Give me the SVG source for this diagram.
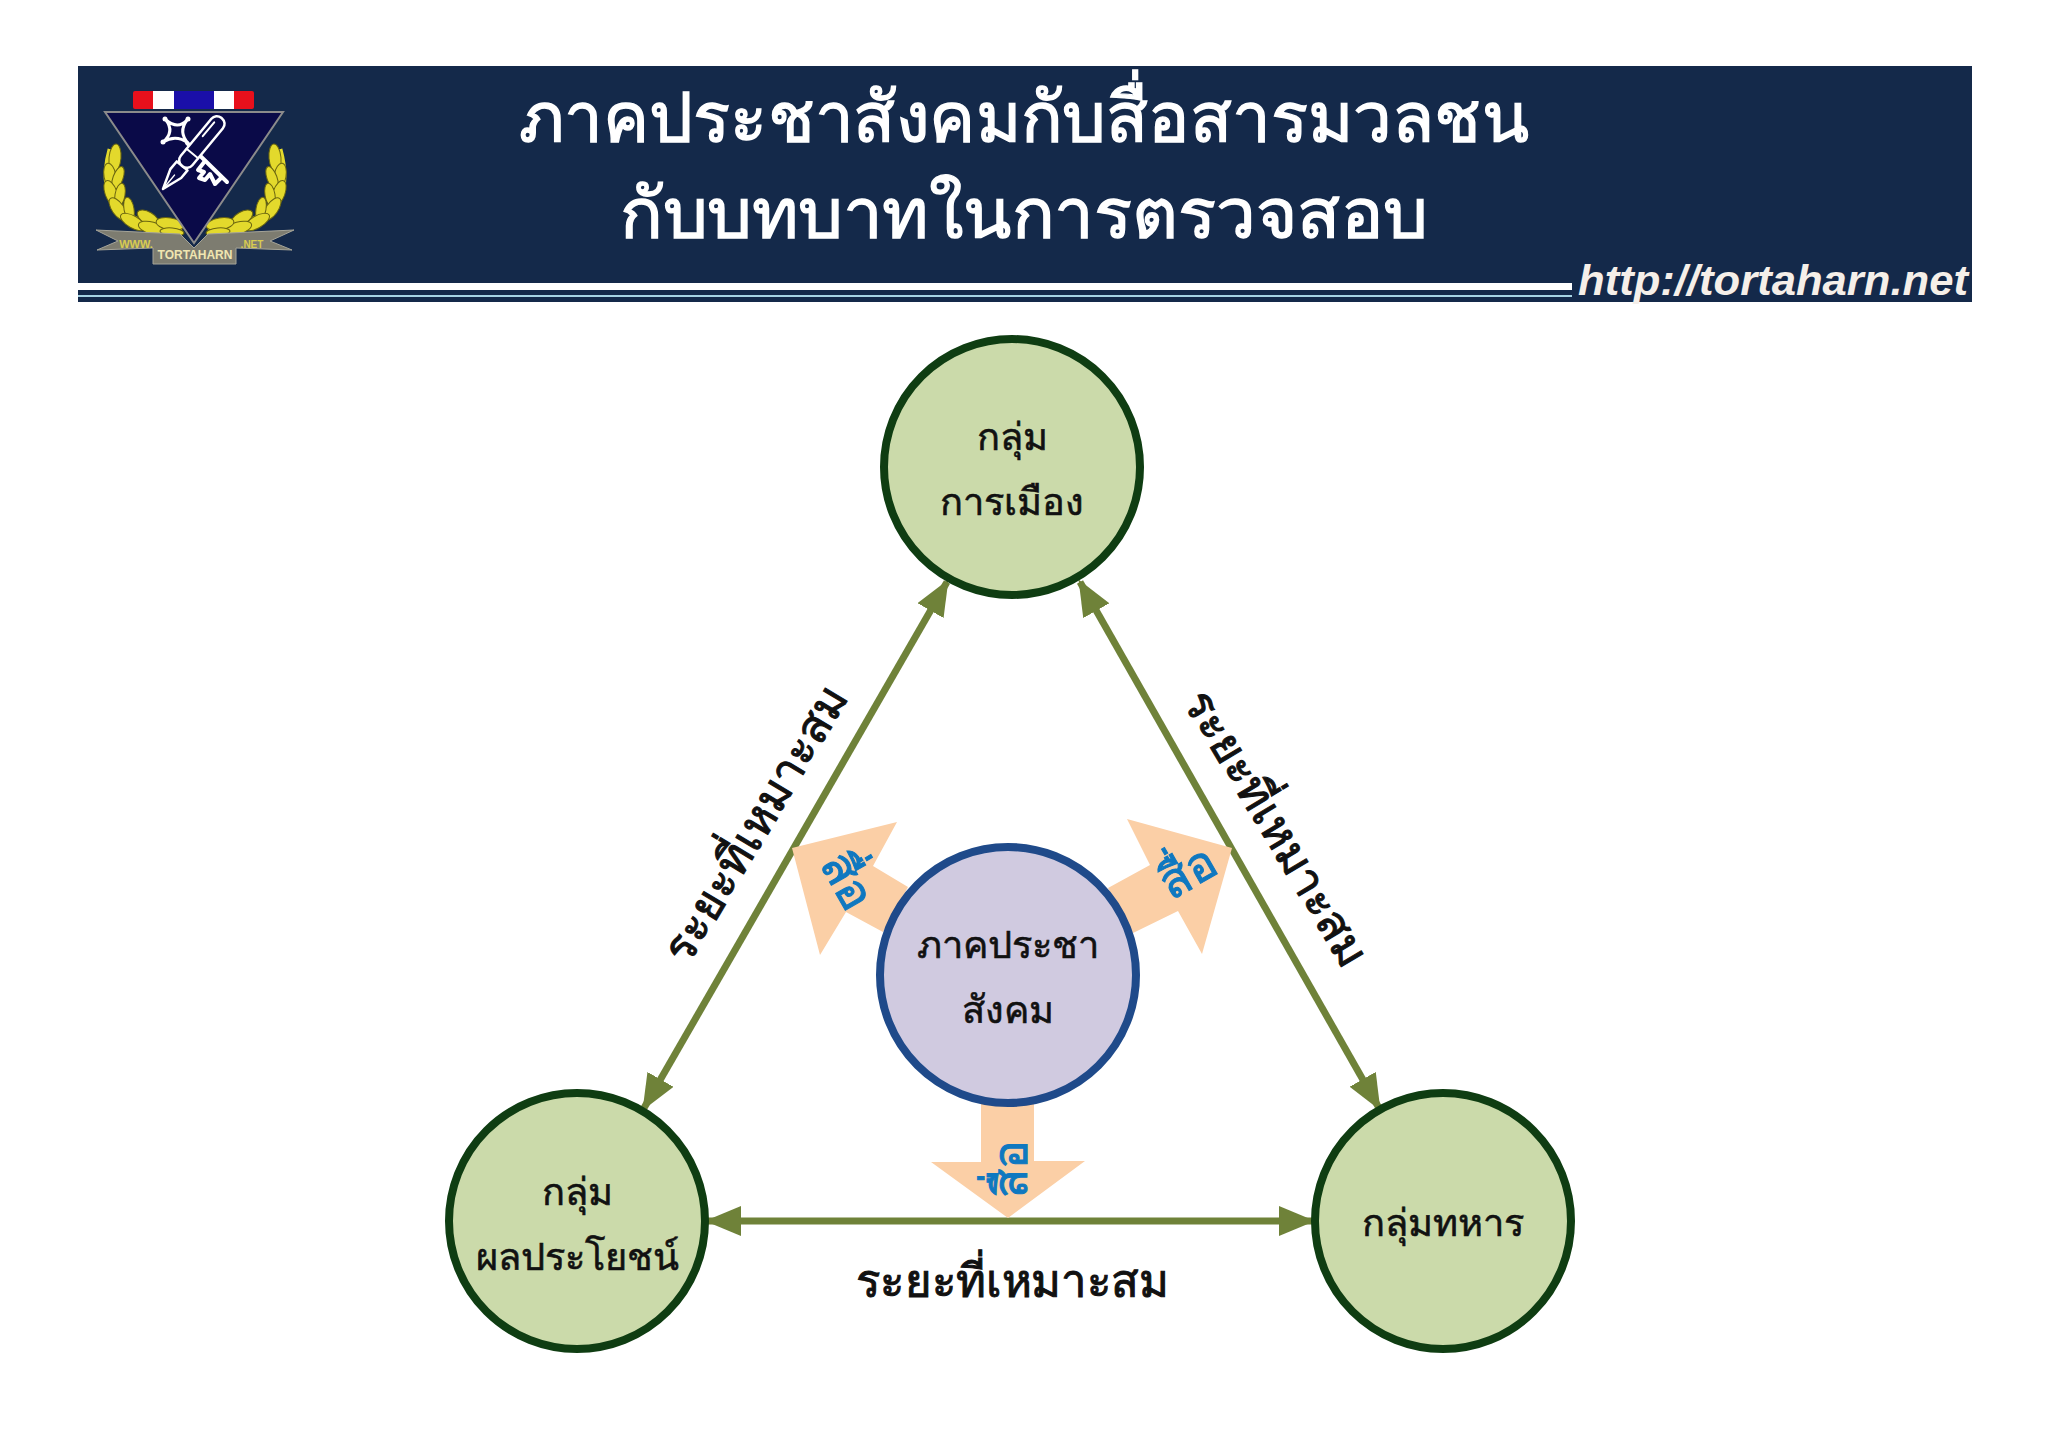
<svg xmlns="http://www.w3.org/2000/svg" width="2048" height="1448" viewBox="0 0 2048 1448">
<style>
text{font-family:"Noto Sans","Liberation Sans",sans-serif;fill:#111;text-anchor:middle}
.node{fill:#cbdaaa;stroke:#0f3d12;stroke-width:8}
.lbl{font-size:38px;stroke:#111;stroke-width:.6}
.dist{font-size:46px;stroke:#111;stroke-width:1}
.blue{font-size:48px;fill:#0f78c0;stroke:#0f78c0;stroke-width:1}
.title{font-size:70px;fill:#fff;stroke:#fff;stroke-width:1.4}
.fat{fill:#fbcfa6}
.leaf{fill:#e3d92c;stroke:#6a6510;stroke-width:1}
.lt{font-family:"Liberation Sans",sans-serif;font-weight:700}
</style>
<defs>
<marker id="ah" markerUnits="userSpaceOnUse" markerWidth="36" markerHeight="30" refX="33" refY="15" orient="auto-start-reverse"><path d="M0 0L36 15L0 30Z" fill="#6f8239"/></marker>
<g id="wreath">
<path d="M113 150C106 175 108 200 124 215C140 228 160 229 182 228" fill="none" stroke="#e3d92c" stroke-width="11"/>
<ellipse class="leaf" cx="115" cy="158" rx="14" ry="6" transform="rotate(-85 115 158)"/>
<ellipse class="leaf" cx="110" cy="176" rx="13" ry="6" transform="rotate(-100 110 176)"/>
<ellipse class="leaf" cx="118" cy="178" rx="12" ry="5" transform="rotate(-70 118 178)"/>
<ellipse class="leaf" cx="111" cy="193" rx="13" ry="6" transform="rotate(-110 111 193)"/>
<ellipse class="leaf" cx="120" cy="195" rx="12" ry="5" transform="rotate(-80 120 195)"/>
<ellipse class="leaf" cx="118" cy="209" rx="13" ry="6" transform="rotate(-125 118 209)"/>
<ellipse class="leaf" cx="129" cy="209" rx="12" ry="5" transform="rotate(-100 129 209)"/>
<ellipse class="leaf" cx="133" cy="222" rx="14" ry="6" transform="rotate(30 133 222)"/>
<ellipse class="leaf" cx="148" cy="218" rx="12" ry="6" transform="rotate(-150 148 218)"/>
<ellipse class="leaf" cx="152" cy="228" rx="14" ry="6" transform="rotate(15 152 228)"/>
<ellipse class="leaf" cx="170" cy="224" rx="14" ry="6" transform="rotate(10 170 224)"/>
<ellipse class="leaf" cx="172" cy="232" rx="12" ry="4" transform="rotate(5 172 232)"/>
</g>
</defs>
<rect width="2048" height="1448" fill="#fff"/>
<g id="header">
<rect x="78" y="66" width="1894" height="217" fill="#14294a"/>
<rect x="78" y="290" width="1894" height="12" fill="#14294a"/>
<rect x="1572" y="240" width="400" height="62" fill="#14294a"/>
<rect x="78" y="295" width="1494" height="2" fill="#a6d3e4"/>
<text class="title" x="1024" y="142" textLength="1010" lengthAdjust="spacingAndGlyphs">ภาคประชาสังคมกับสื่อสารมวลชน</text>
<text class="title" x="1024" y="238" textLength="808" lengthAdjust="spacingAndGlyphs">กับบทบาทในการตรวจสอบ</text>
<text class="lt" x="1578" y="295" textLength="390" lengthAdjust="spacingAndGlyphs" style="font-size:43px;font-style:italic;fill:#f5efe9;text-anchor:start">http://tortaharn.net</text>
</g>
<g id="logo">
<use href="#wreath"/>
<use href="#wreath" transform="translate(390 0) scale(-1 1)"/>
<rect x="133" y="91" width="121" height="18" rx="2" fill="#e8101c"/>
<rect x="153" y="91" width="81" height="18" fill="#fff"/>
<rect x="174" y="91" width="40" height="18" fill="#1a0fa8"/>
<path d="M105 112H283L194 243Z" fill="#0a0a48" stroke="#8b8b8b" stroke-width="2"/>
<g fill="none" stroke="#fff" stroke-linecap="round" stroke-linejoin="round">
<path d="M166 120Q178 130 187 120Q178 132 188 143Q176 134 163 142Q175 132 166 120Z" stroke-width="3"/>
<circle cx="165" cy="119" r="2.5" fill="#fff" stroke="none"/><circle cx="188" cy="119" r="2.5" fill="#fff" stroke="none"/><circle cx="163" cy="142" r="2.5" fill="#fff" stroke="none"/>
<path d="M187 143L227 182" stroke-width="4"/>
<path d="M205 161L198 170L204 172L199 178L205 180L210 174L215 184L221 178" stroke-width="4"/>
<g transform="translate(163 189) rotate(-50.4)" fill="#0a0a48" stroke-width="2.5">
<path d="M0 0L20 -7L30 -7V7L20 7Z"/><path d="M1 0L18 0" stroke-width="1.5"/>
<rect x="30" y="-7.5" width="62" height="15" rx="7"/>
<path d="M46 -7.5V7.5M66 -3H84" stroke-width="2"/>
</g>
</g>
<path d="M96 230L180 234L194 248L208 234L294 230L270 241L292 250L236 248V264H153V248L97 250L118 241Z" fill="#7d7c70" stroke="#a5a498" stroke-width="1"/>
<text class="lt" x="136" y="248" style="font-size:11px;fill:#d8cc50">WWW.</text>
<text class="lt" x="252" y="248" style="font-size:10px;fill:#d8cc50">.NET</text>
<text class="lt" x="195" y="259" style="font-size:12px;fill:#f0e6b0">TORTAHARN</text>
</g>
<g id="connectors" fill="none" stroke="#6f8239" stroke-width="7">
<line x1="644" y1="1108" x2="947" y2="582" marker-start="url(#ah)" marker-end="url(#ah)"/>
<line x1="1080" y1="582" x2="1379" y2="1108" marker-start="url(#ah)" marker-end="url(#ah)"/>
<line x1="708" y1="1221" x2="1312" y2="1221" marker-start="url(#ah)" marker-end="url(#ah)"/>
</g>
<g id="media-arrows">
<path class="fat" d="M792 848L897 822L873 866L908 887L883 932L846 912L820 955Z"/>
<path class="fat" d="M1232 848L1127 819L1150 865L1108 888L1133 933L1178 911L1202 954Z"/>
<path class="fat" d="M1008 1218L931 1162H981V1100H1034V1161H1085Z"/>
</g>
<text class="blue" transform="translate(833 889) rotate(60)">สื่อ</text>
<text class="blue" transform="translate(1196 886) rotate(-30)">สื่อ</text>
<text class="blue" transform="translate(1027 1169) rotate(-90)">สื่อ</text>
<g id="node-top"><circle class="node" cx="1012" cy="467" r="128"/>
<text class="lbl" x="1012" y="450">กลุ่ม</text><text class="lbl" x="1012" y="515">การเมือง</text></g>
<g id="node-left"><circle class="node" cx="577" cy="1221" r="128"/>
<text class="lbl" x="577" y="1205">กลุ่ม</text><text class="lbl" x="577" y="1270">ผลประโยชน์</text></g>
<g id="node-right"><circle class="node" cx="1443" cy="1221" r="128"/>
<text class="lbl" x="1443" y="1236">กลุ่มทหาร</text></g>
<g id="node-center"><circle cx="1008" cy="975" r="128" fill="#d0cae0" stroke="#1f4a8a" stroke-width="8"/>
<text class="lbl" x="1008" y="958">ภาคประชา</text><text class="lbl" x="1008" y="1023">สังคม</text></g>
<text class="dist" transform="translate(769 832) rotate(-59)" textLength="313" lengthAdjust="spacingAndGlyphs">ระยะที่เหมาะสม</text>
<text class="dist" transform="translate(1263 836) rotate(59)" textLength="313" lengthAdjust="spacingAndGlyphs">ระยะที่เหมาะสม</text>
<text class="dist" x="1012" y="1297" textLength="313" lengthAdjust="spacingAndGlyphs">ระยะที่เหมาะสม</text>
</svg>
